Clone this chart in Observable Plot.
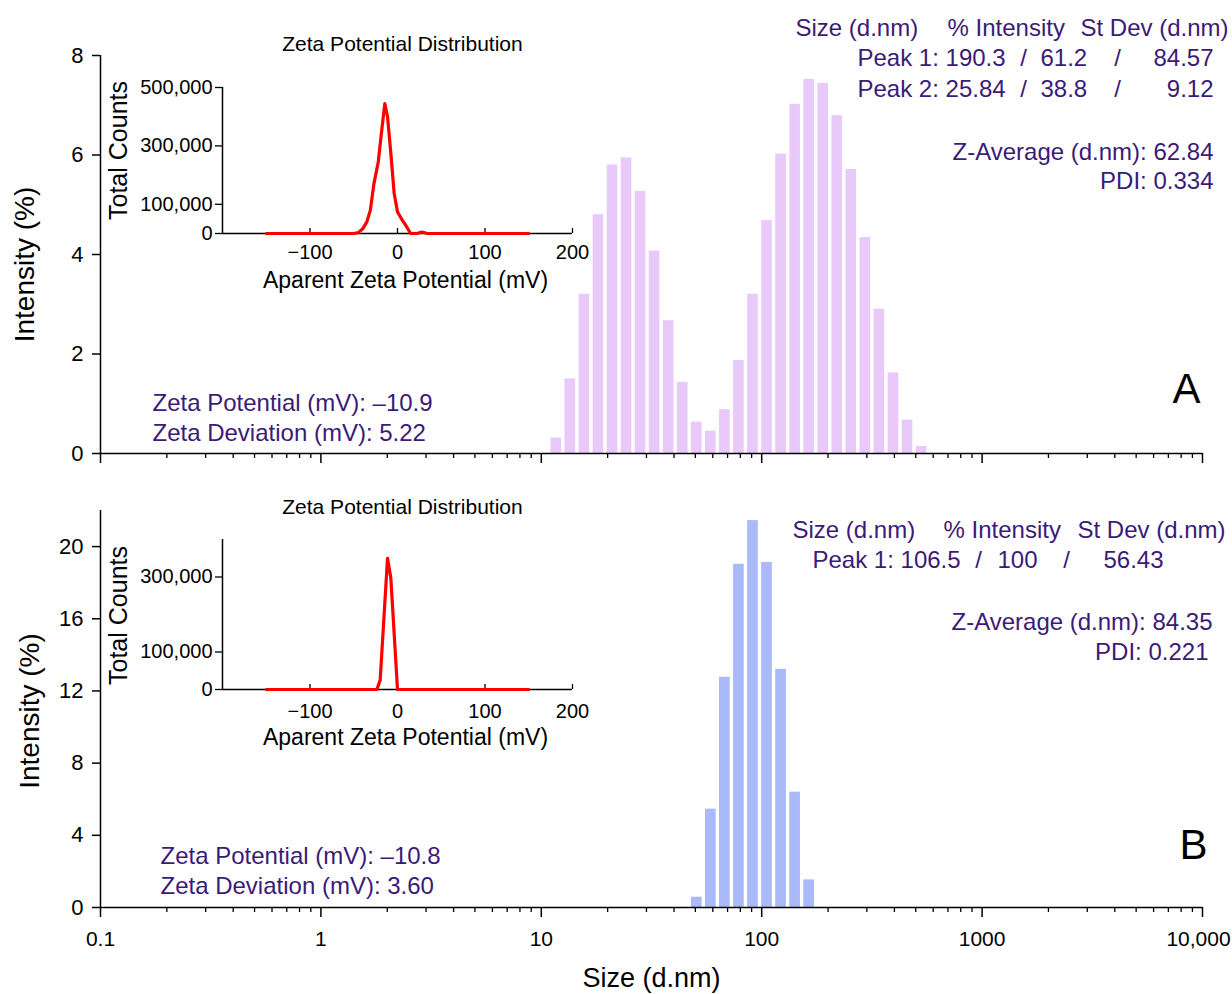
<!DOCTYPE html>
<html><head><meta charset="utf-8">
<script src="https://cdn.jsdelivr.net/npm/d3@7"></script>
<script src="https://cdn.jsdelivr.net/npm/@observablehq/plot@0.6"></script>
<style>
body{margin:0;background:#fff;}
#wrap{position:relative;width:1232px;height:994px;overflow:hidden;background:#fff;}
</style></head><body><div id="wrap"></div>
<script>
// ---------------- DATA ----------------
// Panel A: size distribution by intensity
const sizeA = [11.70, 13.54, 15.69, 18.17, 21.04, 24.36, 28.21, 32.67, 37.84, 43.82, 50.75, 58.77, 68.06, 78.82, 91.28, 105.7, 122.4, 141.8, 164.2, 190.1, 220.2, 255.0, 295.3, 342.0, 396.1, 458.7, 531.2];
const intensityA = [0.31, 1.50, 3.20, 4.80, 5.80, 5.94, 5.27, 4.07, 2.67, 1.43, 0.63, 0.45, 0.88, 1.87, 3.20, 4.68, 6.02, 7.02, 7.52, 7.44, 6.79, 5.71, 4.34, 2.90, 1.62, 0.67, 0.14];
// Panel B
const sizeB = [50.75, 58.77, 68.06, 78.82, 91.28, 105.7, 122.4, 141.8, 164.2];
const intensityB = [0.57, 5.45, 12.76, 19.02, 21.44, 19.12, 13.20, 6.39, 1.53];
// Insets: zeta potential distribution
const zetaA = [-150, -50, -45, -40, -35, -31, -27, -22, -18, -14.5, -11.4, -7.6, -3.8, 0, 5, 9.5, 15, 22, 28, 34, 150];
const countsA = [0, 0, 3000, 15000, 40000, 80000, 170000, 245000, 354000, 445000, 400000, 274000, 137000, 74000, 48000, 28000, 0, 0, 5000, 0, 0];
const zetaB = [-150, -23.6, -19.8, -11.4, -7.6, 0, 150];
const countsB = [0, 0, 25000, 350000, 297000, 0, 0];
// Axis ticks and labels
const sizeTicks = [0.1, 1, 10, 100, 1000, 10000];
const sizeTickLabels = ["0.1", "1", "10", "100", "1000", "10,000"];
const intensityTicksA = [0, 2, 4, 6, 8];
const intensityTicksB = [0, 4, 8, 12, 16, 20];
const zetaTicks = [-100, 0, 100, 200];
const countTicksA = [0, 100000, 300000, 500000];
const countTicksB = [0, 100000, 300000];
// Annotation values
const peakNamesA = ["Peak 1:", "Peak 2:"];
const peakSizeA = ["190.3", "25.84"];
const peakIntA = ["61.2", "38.8"];
const peakSdA = ["84.57", "9.12"];
const zAvgA = "62.84", pdiA = "0.334", zetaPotA = "\u201310.9", zetaDevA = "5.22";
const peakNamesB = ["Peak 1:"];
const peakSizeB = ["106.5"];
const peakIntB = ["100"];
const peakSdB = ["56.43"];
const zAvgB = "84.35", pdiB = "0.221", zetaPotB = "\u201310.8", zetaDevB = "3.60";

// ---------------- STYLE ----------------
const FONT = '"Liberation Sans", Arial, Helvetica, sans-serif';
const PURPLE = "#3b1a78";
const BAR_A = "#e9c8fa";
const BAR_B = "#aab9f9";
const wrap = document.getElementById("wrap");

function place(svg, left, top) {
  svg.style.position = "absolute";
  svg.style.left = left + "px";
  svg.style.top = top + "px";
  wrap.appendChild(svg);
}
function barRows(sizes, values) {
  const half = Math.pow(sizes[1] / sizes[0], 0.38);
  return sizes.map((s, i) => ({x1: s / half, x2: s * half, y: values[i]}));
}
const minorTicks = sizeTicks.slice(0, -1).flatMap(d => d3.range(2, 10).map(k => +(d * k).toPrecision(3)));
const sizeLabel = d => sizeTickLabels[sizeTicks.indexOf(d)];

// absolute-positioned text helper (ox, oy = frame origin in page px)
function note(str, ax, ay, ox, oy, opts = {}) {
  return Plot.text([str], {frameAnchor: "top-left", dx: ax - ox, dy: ay - oy, lineAnchor: "middle", fontSize: 24, fill: PURPLE, ...opts});
}

function mainPanel({bars, fill, yDomain, yTicks, height, mT, mB, xLabels, notes, yTitleDx, yTitleDy}) {
  const marks = [
    Plot.rectY(bars, {x1: "x1", x2: "x2", y1: 0, y2: "y", fill}),
    Plot.ruleY([0], {stroke: "black", strokeWidth: 1.5}),
    Plot.ruleX([0.1], {stroke: "black", strokeWidth: 1.5}),
    Plot.axisX({ticks: minorTicks, tickSize: 5, tickFormat: () => "", label: null, strokeWidth: 1.3}),
    Plot.axisX({ticks: sizeTicks, tickSize: 10, tickFormat: () => "", label: null, strokeWidth: 1.5}),
    Plot.axisY({ticks: yTicks, tickSize: 8, tickPadding: 9, label: null, strokeWidth: 1.5, fontSize: 22, tickFormat: d => String(d)}),
    Plot.text(["Intensity (%)"], {frameAnchor: "left", textAnchor: "middle", lineAnchor: "middle", dx: yTitleDx, dy: yTitleDy, rotate: -90, fontSize: 28, fill: "black"}),
    ...notes
  ];
  if (xLabels) {
    marks.push(
      Plot.axisX({ticks: sizeTicks.slice(0, -1), tickSize: 0, tickPadding: 24, label: null, fontSize: 21, tickFormat: sizeLabel}),
      Plot.axisX({ticks: sizeTicks.slice(-1), tickSize: 0, tickPadding: 24, dx: -4, label: null, fontSize: 21, tickFormat: sizeLabel}),
      Plot.text(["Size (d.nm)"], {frameAnchor: "bottom", lineAnchor: "middle", dy: 71, fontSize: 27, fill: "black"})
    );
  }
  return Plot.plot({
    width: 1232, height, marginLeft: 100, marginRight: 30, marginTop: mT, marginBottom: mB,
    x: {type: "log", domain: [0.1, 10000]},
    y: {domain: yDomain},
    style: {fontFamily: FONT, background: "transparent", overflow: "visible", color: "black"},
    marks
  });
}

function inset({zeta, counts, yMax, yTicks, height, mT, mB, titleDy, xTitleDy, tickPad, countsDy}) {
  return Plot.plot({
    width: 510, height, marginLeft: 132, marginRight: 28, marginTop: mT, marginBottom: mB,
    x: {domain: [-200, 200]},
    y: {domain: [0, yMax]},
    style: {fontFamily: FONT, background: "transparent", overflow: "visible", color: "black"},
    marks: [
      Plot.ruleX([-200], {stroke: "black", strokeWidth: 1.5}),
      Plot.ruleY([0], {stroke: "black", strokeWidth: 1.5}),
      Plot.axisX({ticks: zetaTicks, tickSize: 5, dy: -5, tickFormat: () => "", label: null, strokeWidth: 1.3}),
      Plot.axisX({ticks: zetaTicks, tickSize: 0, tickPadding: tickPad, label: null, fontSize: 20}),
      Plot.axisY({ticks: yTicks, tickSize: 7, tickPadding: 3, label: null, fontSize: 20, strokeWidth: 1.3, tickFormat: d3.format(",")}),
      Plot.line(zeta.map((z, i) => ({z, c: counts[i]})), {x: "z", y: "c", stroke: "#ff0000", strokeWidth: 3.2, curve: "linear"}),
      Plot.text(["Zeta Potential Distribution"], {frameAnchor: "top", lineAnchor: "middle", dx: 5, dy: titleDy, fontSize: 21}),
      Plot.text(["Total Counts"], {frameAnchor: "left", textAnchor: "middle", lineAnchor: "middle", dx: -104, dy: countsDy, rotate: -90, fontSize: 25}),
      Plot.text(["Aparent Zeta Potential (mV)"], {frameAnchor: "bottom", lineAnchor: "middle", dx: 8, dy: xTitleDy, fontSize: 23})
    ]
  });
}

// ---------- Panel A ----------
{
  const ox = 100, oy = 55;
  const notes = [
    note("Size (d.nm)", 795, 28, ox, oy, {textAnchor: "start"}),
    note("% Intensity", 947, 28, ox, oy, {textAnchor: "start"}),
    note("St Dev (d.nm)", 1228, 28, ox, oy, {textAnchor: "end"}),
    ...peakNamesA.flatMap((p, i) => {
      const y = [58, 89][i];
      return [
        note(`${p} ${peakSizeA[i]}`, 857, y, ox, oy, {textAnchor: "start"}),
        note("/", 1023, y, ox, oy, {textAnchor: "middle"}),
        note(peakIntA[i], 1040, y, ox, oy, {textAnchor: "start"}),
        note("/", 1117, y, ox, oy, {textAnchor: "middle"}),
        note(peakSdA[i], 1213, y, ox, oy, {textAnchor: "end"})
      ];
    }),
    note(`Z-Average (d.nm): ${zAvgA}`, 1213, 152, ox, oy, {textAnchor: "end"}),
    note(`PDI: ${pdiA}`, 1213, 181, ox, oy, {textAnchor: "end"}),
    note(`Zeta Potential (mV): ${zetaPotA}`, 152, 403, ox, oy, {textAnchor: "start"}),
    note(`Zeta Deviation (mV): ${zetaDevA}`, 152, 433, ox, oy, {textAnchor: "start"}),
    note("A", 1186, 389, ox, oy, {textAnchor: "middle", fill: "black", fontSize: 42})
  ];
  place(mainPanel({bars: barRows(sizeA, intensityA), fill: BAR_A, yDomain: [0, 8], yTicks: intensityTicksA,
    height: 470, mT: 55, mB: 17, xLabels: false, notes, yTitleDx: -75, yTitleDy: 10}), 0, 0);
}
// ---------- Panel B ----------
{
  const top = 480, ox = 100, oy = top + 30;
  const notes = [
    note("Size (d.nm)", 792, 530, ox, oy, {textAnchor: "start"}),
    note("% Intensity", 943, 530, ox, oy, {textAnchor: "start"}),
    note("St Dev (d.nm)", 1225, 530, ox, oy, {textAnchor: "end"}),
    ...peakNamesB.flatMap((p, i) => {
      const y = 560;
      return [
        note(`${p} ${peakSizeB[i]}`, 812, y, ox, oy, {textAnchor: "start"}),
        note("/", 978, y, ox, oy, {textAnchor: "middle"}),
        note(peakIntB[i], 997, y, ox, oy, {textAnchor: "start"}),
        note("/", 1066, y, ox, oy, {textAnchor: "middle"}),
        note(peakSdB[i], 1163, y, ox, oy, {textAnchor: "end"})
      ];
    }),
    note(`Z-Average (d.nm): ${zAvgB}`, 1212, 622, ox, oy, {textAnchor: "end"}),
    note(`PDI: ${pdiB}`, 1208, 652, ox, oy, {textAnchor: "end"}),
    note(`Zeta Potential (mV): ${zetaPotB}`, 160, 856, ox, oy, {textAnchor: "start"}),
    note(`Zeta Deviation (mV): ${zetaDevB}`, 160, 886, ox, oy, {textAnchor: "start"}),
    note("B", 1193, 845, ox, oy, {textAnchor: "middle", fill: "black", fontSize: 42})
  ];
  place(mainPanel({bars: barRows(sizeB, intensityB), fill: BAR_B, yDomain: [0, 22], yTicks: intensityTicksB,
    height: 514, mT: 30, mB: 87, xLabels: true, notes, yTitleDx: -70, yTitleDy: 2}), 0, top);
}
// ---------- Insets ----------
place(inset({zeta: zetaA, counts: countsA, yMax: 500000, yTicks: countTicksA, height: 260, mT: 57, mB: 57,
  titleDy: -43, xTitleDy: 47, tickPad: 11, countsDy: -10}), 90, 30);
place(inset({zeta: zetaB, counts: countsB, yMax: 400000, yTicks: countTicksB, height: 270, mT: 49, mB: 71,
  titleDy: -32, xTitleDy: 48, tickPad: 14, countsDy: 1}), 90, 490);
</script></body></html>
